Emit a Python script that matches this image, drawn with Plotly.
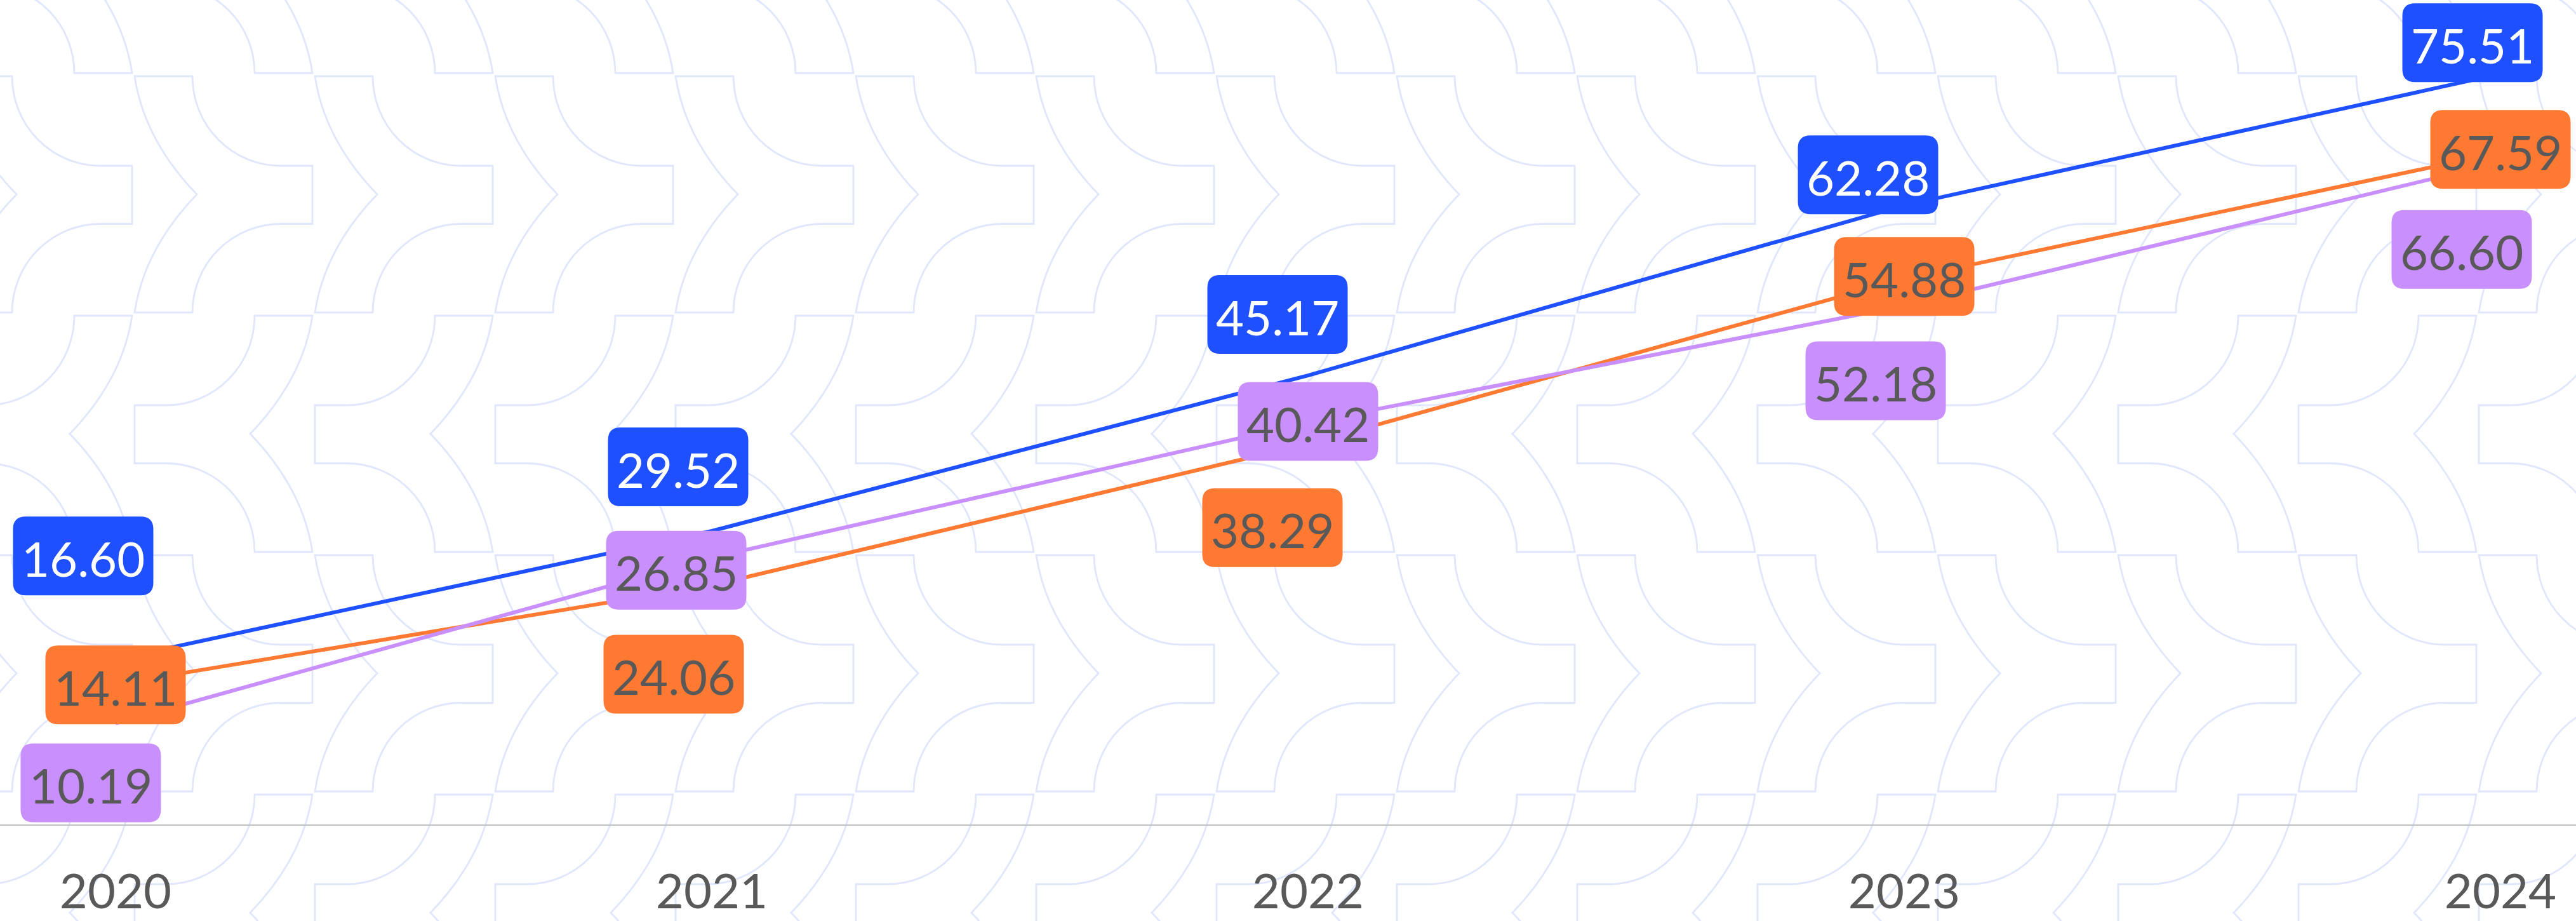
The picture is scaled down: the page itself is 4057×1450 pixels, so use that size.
import base64
import plotly.graph_objects as go

# ---------------- data ----------------
years = [2020, 2021, 2022, 2023, 2024]
tick_labels = ["2020", "2021", "2022", "2023", "2024"]

series_names = ["Series A", "Series B", "Series C"]
blue_values = [16.60, 29.52, 45.17, 62.28, 75.51]
orange_values = [14.11, 24.06, 38.29, 54.88, 67.59]
purple_values = [10.19, 26.85, 40.42, 52.18, 66.60]

# label box offsets from each point (screen pixels, +y = down)
blue_dx = [-51, -53, -48, -57, -44]
blue_dy = [-163, -101, -96, -48, -49]
orange_dx = [0, -60, -56, 0, 0]
orange_dy = [1, 140, 132, -4, -5]
purple_dx = [-39, -56, 0, -45, -61]
purple_dy = [94, 20, -2, 118, 137]

# ---------------- style ----------------
W, H = 4057, 1450
MB = 152
FONT = "Lato"
BLUE, ORANGE, PURPLE = "#1E50FF", "#FE7A33", "#C98FFC"
TXT_DARK = "#595959"
BOX_W, BOX_H, BOX_R = 221, 124, 20


def pattern_svg():
    PW, PH = 284, 377
    X0, Y0 = 210, 117.5
    d = []

    def tile(xb, yb, m):
        def X(u):
            return round(xb + m * u, 1)

        def Y(v):
            return round(yb + v, 1)
        sw = 0 if m == 1 else 1
        return (f"M{X(2)},{Y(2.5)} L{X(93)},{Y(2.5)} "
                f"A139,141 0 0 {sw} {X(232)},{Y(143.5)} L{X(282)},{Y(143.5)} "
                f"L{X(282)},{Y(235)} L{X(232)},{Y(235)} "
                f"A139,139.5 0 0 {sw} {X(93)},{Y(374.5)} L{X(2)},{Y(374.5)} "
                f"Q{X(17)},{Y(274.5)} {X(100)},{Y(188.5)} "
                f"Q{X(17)},{Y(102.5)} {X(2)},{Y(2.5)} Z")

    for j in range(-1, 5):
        yb = Y0 + j * PH
        m = 1 if j % 2 == 0 else -1
        for k in range(-2, 17):
            d.append(tile(X0 + k * PW, yb, m))
    svg = (f'<svg xmlns="http://www.w3.org/2000/svg" width="{W}" height="{H}" '
           f'viewBox="0 0 {W} {H}"><rect width="{W}" height="{H}" fill="white"/>'
           f'<path d="{" ".join(d)}" fill="none" stroke="#E0E6FC" stroke-width="2.8"/></svg>')
    return "data:image/svg+xml;base64," + base64.b64encode(svg.encode()).decode()


def rounded_rect(cx, cy, w, h, r):
    x0, x1 = cx - w / 2, cx + w / 2
    y0, y1 = cy - h / 2, cy + h / 2
    return (f"M {x0 + r},{y0} L {x1 - r},{y0} Q {x1},{y0} {x1},{y0 + r} "
            f"L {x1},{y1 - r} Q {x1},{y1} {x1 - r},{y1} L {x0 + r},{y1} "
            f"Q {x0},{y1} {x0},{y1 - r} L {x0},{y0 + r} Q {x0},{y0} {x0 + r},{y0} Z")


fig = go.Figure()

series = [
    (series_names[0], blue_values, BLUE, "white", blue_dx, blue_dy),
    (series_names[1], orange_values, ORANGE, TXT_DARK, orange_dx, orange_dy),
    (series_names[2], purple_values, PURPLE, TXT_DARK, purple_dx, purple_dy),
]

for name, vals, color, tcol, dxs, dys in series:
    fig.add_trace(go.Scatter(x=years, y=vals, mode="lines", name=name,
                             line=dict(color=color, width=6), hoverinfo="skip"))

for name, vals, color, tcol, dxs, dys in series:
    for x, v, dx, dy in zip(years, vals, dxs, dys):
        fig.add_shape(type="path", xref="x", yref="y",
                      xsizemode="pixel", ysizemode="pixel",
                      xanchor=x, yanchor=v,
                      path=rounded_rect(dx, -dy, BOX_W, BOX_H, BOX_R),
                      fillcolor=color, line=dict(width=0), layer="above")
        fig.add_annotation(x=x, y=v, xref="x", yref="y", xshift=dx, yshift=-dy - 3,
                           text=f"{v:.2f}", showarrow=False,
                           xanchor="center", yanchor="middle",
                           font=dict(family=FONT, size=76, color=tcol))

fig.add_layout_image(source=pattern_svg(), xref="paper", yref="paper",
                     x=0, y=1, sizex=1, sizey=H / (H - MB),
                     xanchor="left", yanchor="top", sizing="stretch", layer="below")

fig.update_layout(
    width=W, height=H,
    margin=dict(l=0, r=0, t=0, b=MB, pad=0),
    paper_bgcolor="white", plot_bgcolor="rgba(0,0,0,0)",
    showlegend=False,
    xaxis=dict(range=[2019.8062, 2024.1267], tickvals=years, ticktext=tick_labels,
               showgrid=False, zeroline=False, showline=True, linecolor="#BFBFBF",
               linewidth=2, ticks="", ticklabelstandoff=39, automargin=False,
               tickfont=dict(family=FONT, size=76, color=TXT_DARK), fixedrange=True),
    yaxis=dict(range=[0, 82.94], visible=False, fixedrange=True, automargin=False),
)

fig.write_html(
    "out.html",
    config={"displayModeBar": False, "staticPlot": True},
    post_script=("document.body.style.margin='0';document.body.style.padding='0';"
                 "document.documentElement.style.overflow='hidden';"),
)
